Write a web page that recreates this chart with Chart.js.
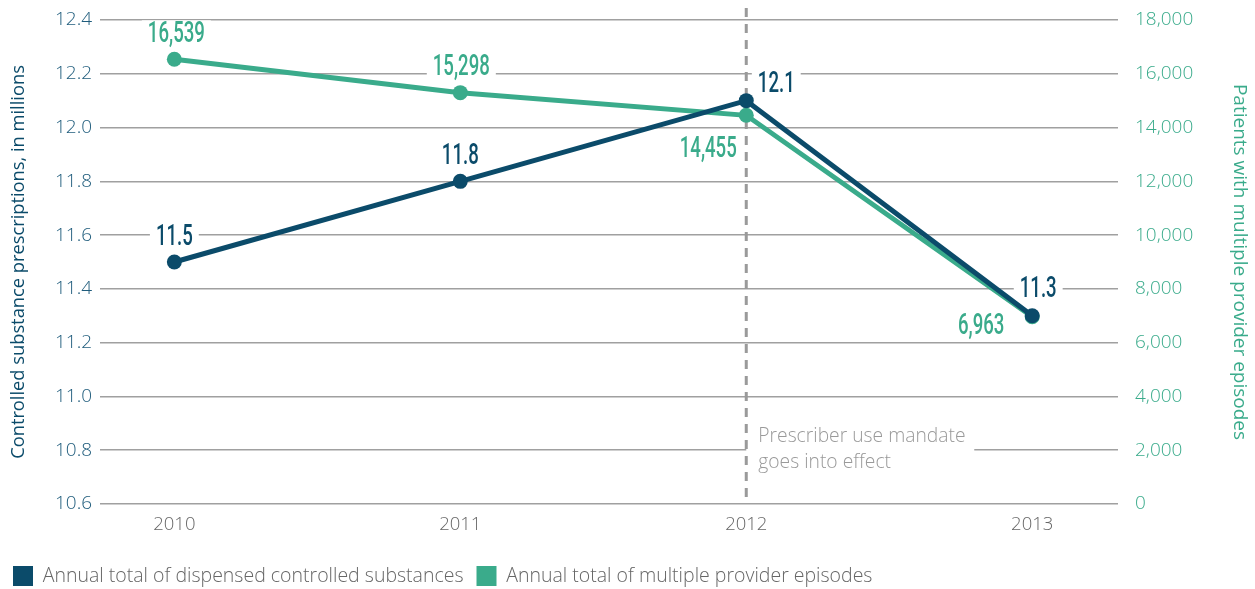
<!DOCTYPE html>
<html>
<head>
<meta charset="utf-8">
<script src="https://cdn.jsdelivr.net/npm/chart.js@4.4.1/dist/chart.umd.min.js"></script>
<style>
html, body { margin: 0; padding: 0; background: #fff; }
#wrap { width: 1255px; height: 589px; }
</style>
</head>
<body>
<div id="wrap"><canvas id="chart" width="1255" height="589"></canvas></div>
<script>
// Данные графика
const years = [2010, 2011, 2012, 2013];
const prescriptions = [11.5, 11.8, 12.1, 11.3];   // млн рецептов
const episodes = [16539, 15298, 14455, 6963];      // пациенты
const seriesNames = ['Annual total of dispensed controlled substances', 'Annual total of multiple provider episodes'];
const mandateYear = 2012;
const mandateText = ['Prescriber use mandate', 'goes into effect'];

const BLUE = '#0b4b6a';
const GREEN = '#3aab8b';
const FONT = '"Open Sans", Lato, sans-serif';

// Смещения подписей значений относительно точек
const labelOffsets = [
    [[0, -28], [0, -28], [30, -19], [6, -29]],
    [[2, -28], [1, -28], [-38, 31], [-51, 7]]
];
const labelFormats = [
    v => v.toFixed(1),
    v => v.toLocaleString('en-US')
];

// Подписи значений с белой подложкой
const valueLabels = {
    id: 'valueLabels',
    afterDatasetsDraw(chart) {
        const ctx = chart.ctx;
        const size = 30, squeeze = 0.62;
        chart.data.datasets.forEach((ds, di) => {
            const meta = chart.getDatasetMeta(di);
            meta.data.forEach((pt, i) => {
                const text = labelFormats[di](ds.data[i].y);
                const cx = pt.x + labelOffsets[di][i][0];
                const cy = pt.y + labelOffsets[di][i][1];
                ctx.save();
                ctx.font = '500 ' + size + 'px Roboto, sans-serif';
                const w = ctx.measureText(text).width * squeeze;
                ctx.fillStyle = '#fff';
                ctx.fillRect(cx - w / 2 - 6, cy - 11, w + 12, 22);
                ctx.translate(cx, cy + size * 0.355);
                ctx.scale(squeeze, 1);
                ctx.fillStyle = ds.borderColor;
                ctx.textAlign = 'center';
                ctx.textBaseline = 'alphabetic';
                ctx.fillText(text, 0, 0);
                ctx.restore();
            });
        });
    }
};

// Вертикальная линия и пояснение
const mandateLine = {
    id: 'mandateLine',
    beforeDatasetsDraw(chart) {
        const ctx = chart.ctx;
        const x = chart.scales.x.getPixelForValue(mandateYear);
        const yMid = chart.scales.yLeft.getPixelForValue(10.8);
        const area = chart.chartArea;
        ctx.save();
        ctx.fillStyle = '#fff';
        ctx.fillRect(x, yMid - 28, 228, 56);
        ctx.strokeStyle = '#9a9a9a';
        ctx.lineWidth = 3;
        ctx.setLineDash([9, 7]);
        ctx.beginPath();
        ctx.moveTo(x, area.top - 12);
        ctx.lineTo(x, area.bottom);
        ctx.stroke();
        ctx.fillStyle = '#9a9a9a';
        ctx.font = '300 19.3px ' + FONT;
        ctx.textBaseline = 'middle';
        ctx.fillText(mandateText[0], x + 12, yMid - 14);
        ctx.fillText(mandateText[1], x + 12, yMid + 12);
        ctx.restore();
    }
};

// Убираем автоматические отступы вертикальных осей
function fixAxis(width) {
    return s => {
        s.width = width;
        s.paddingTop = 0;
        s.paddingBottom = 0;
    };
}

const ctx = document.getElementById('chart').getContext('2d');

const chart = new Chart(ctx, {
    type: 'line',
    data: {
        datasets: [
            {
                label: seriesNames[0],
                data: years.map((y, i) => ({ x: y, y: prescriptions[i] })),
                yAxisID: 'yLeft',
                borderColor: BLUE,
                backgroundColor: BLUE,
                borderWidth: 5,
                pointRadius: 7.5,
                pointBorderWidth: 0,
                pointBackgroundColor: BLUE
            },
            {
                label: seriesNames[1],
                data: years.map((y, i) => ({ x: y, y: episodes[i] })),
                yAxisID: 'yRight',
                borderColor: GREEN,
                backgroundColor: GREEN,
                borderWidth: 5,
                pointRadius: 7.5,
                pointBorderWidth: 0,
                pointBackgroundColor: GREEN
            }
        ]
    },
    options: {
        responsive: false,
        animation: false,
        devicePixelRatio: 1,
        layout: { padding: { top: 20, left: 0, right: 0, bottom: -7 } },
        plugins: {
            tooltip: { enabled: false },
            legend: {
                position: 'bottom',
                align: 'start',
                labels: {
                    boxWidth: 20,
                    boxHeight: 20,
                    padding: 13,
                    color: '#666',
                    font: { family: FONT, size: 19.5, weight: '300' },
                    generateLabels: c => c.data.datasets.map((ds, i) => ({
                        text: ds.label,
                        fillStyle: ds.borderColor,
                        strokeStyle: ds.borderColor,
                        lineWidth: 0,
                        hidden: false,
                        datasetIndex: i,
                        fontColor: '#666'
                    }))
                }
            }
        },
        scales: {
            x: {
                type: 'linear',
                min: 2009.74,
                max: 2013.3,
                grid: { display: false, drawTicks: false },
                border: { display: false },
                ticks: {
                    stepSize: 1,
                    includeBounds: false,
                    callback: v => String(v),
                    color: '#666',
                    padding: 10,
                    font: { family: FONT, size: 18.5, weight: '300' }
                },
                afterFit: s => { s.height = 49; }
            },
            yLeft: {
                position: 'left',
                min: 10.6,
                max: 12.4,
                ticks: {
                    stepSize: 0.2,
                    callback: v => v.toFixed(1),
                    color: '#1f5c7c',
                    padding: 8,
                    font: { family: FONT, size: 19, weight: '300' }
                },
                grid: { color: '#a0a0a0', lineWidth: 1.5, drawTicks: false },
                border: { display: false },
                title: {
                    display: true,
                    text: 'Controlled substance prescriptions, in millions',
                    color: BLUE,
                    padding: { top: 8, bottom: 0 },
                    font: { family: FONT, size: 18.3, weight: '400' }
                },
                afterFit: fixAxis(100)
            },
            yRight: {
                position: 'right',
                min: 0,
                max: 18000,
                ticks: {
                    stepSize: 2000,
                    callback: v => v.toLocaleString('en-US'),
                    color: GREEN,
                    padding: 17,
                    font: { family: FONT, size: 19, weight: '300' }
                },
                grid: { display: false, drawTicks: false },
                border: { display: false },
                title: {
                    display: true,
                    text: 'Patients with multiple provider episodes',
                    color: GREEN,
                    padding: { top: 4, bottom: 0 },
                    font: { family: FONT, size: 19, weight: '400' }
                },
                afterFit: fixAxis(137)
            }
        }
    },
    plugins: [mandateLine, valueLabels]
});
</script>
</body>
</html>
